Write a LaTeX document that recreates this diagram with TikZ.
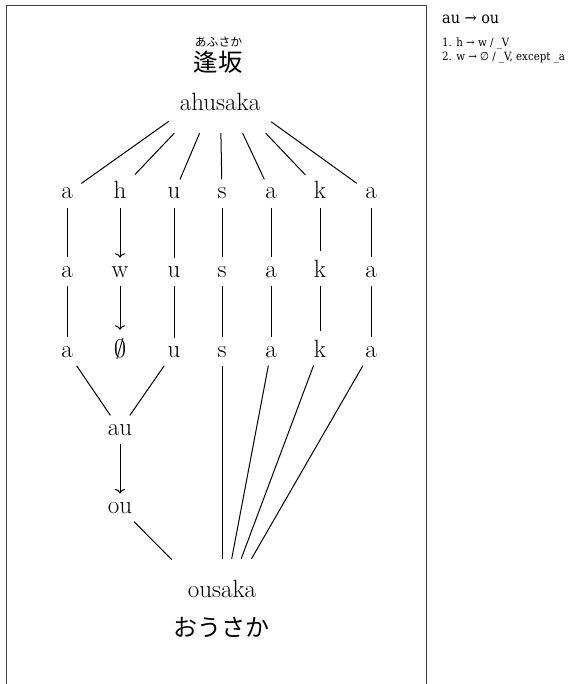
\documentclass[tikz,border=0pt]{standalone}
\usepackage{fontspec}
\newfontfamily\cjkfont{Noto Sans CJK JP}
\newfontfamily\notefont{DejaVu Serif Condensed}
\newfontfamily\notesym{DejaVu Sans Condensed}
\usetikzlibrary{arrows.meta}
\begin{document}
\begin{tikzpicture}[x=1pt,y=-1pt,
  letter/.style={font=\fontsize{25}{30}\selectfont, inner sep=8.33pt, anchor=base},
  kana/.style={font=\cjkfont\fontsize{#1}{#1}\selectfont, inner sep=0pt},
  link/.style={line width=1pt},
  change/.style={line width=1pt,-{To[length=4.5pt,width=10pt]}},
  note/.style={anchor=base west, inner sep=0pt, font=\notefont\fontsize{#1}{#1}\selectfont},
  frame/.style={line width=1.3pt, black!75}
]
\useasboundingbox (0,0) rectangle (570,684);
% panel frame, open at the bottom
\draw[frame] (6.5,700) -- (6.5,5.5) -- (426.5,5.5) -- (426.5,700);

% source word with reading
\node[kana=11.8] (ruby) at (218.5,42.5) {あふさか};
\node[kana=24.5] (kanji) at (218,62.5) {逢坂};
\node[letter, text height=65.7pt, text depth=13.7pt, inner xsep=10.8pt] (src) at (220,111) {ahusaka};

% segment rows
\foreach \n/\x/\s in {a/67/a, b/120/h, c/174/u, d/222/s, e/271/a, f/320/k, g/371/a}
  \node[letter] (r1\n) at (\x,199) {\s};
\foreach \n/\x/\s in {a/67/a, b/120/w, c/174/u, d/222/s, e/271/a, f/320/k, g/371/a}
  \node[letter] (r2\n) at (\x,277) {\s};
\foreach \n/\x/\s in {a/67/a, b/120/$\emptyset$, c/174/u, d/222/s, e/271/a, f/320/k, g/371/a}
  \node[letter] (r3\n) at (\x,357) {\s};

\node[letter] (au) at (120,435) {au};
\node[letter] (ou) at (120,513) {ou};

% result word with reading
\node[letter, text height=29.7pt, text depth=55.7pt, inner xsep=16pt] (dst) at (222,597) {ousaka};
\node[kana=24] (kana) at (221.5,627) {おうさか};

% connectors
\foreach \n in {a,b,c,d,e,f,g}
  \draw[link] (src) -- (r1\n);
\foreach \n in {a,c,d,e,f,g}
  \draw[link] (r1\n) -- (r2\n);
\draw[change] (r1b) -- (r2b);
\foreach \n in {a,c,d,e,f,g}
  \draw[link] (r2\n) -- (r3\n);
\draw[change] (r2b) -- (r3b);
\draw[link] (r3a) -- (au);
\draw[link] (r3c) -- (au);
\draw[change] (au) -- (ou);
\draw[link] (ou) -- (dst);
\foreach \n in {d,e,f,g}
  \draw[link] (r3\n) -- (dst);

% sound change rules
\node[note=16] (rule) at (442,24) {au → ou};
\node[note=11.4] (rule1) at (442,47) {1. h → w / \_V};
\node[note=11.4] (rule2) at (442,61) {2. w → {\notesym ∅} / \_V, except \_a};
\end{tikzpicture}
\end{document}
